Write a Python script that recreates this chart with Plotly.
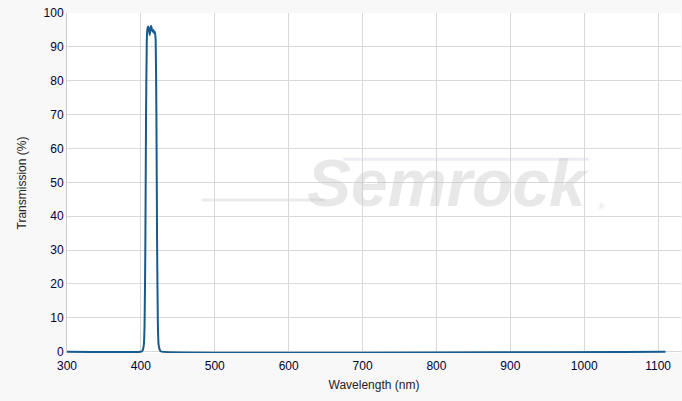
import plotly.graph_objects as go

wavelength = [300, 400, 402, 404, 405, 406, 407, 408, 409, 410, 411, 412, 413, 414,
              415, 416, 417, 418, 419, 420, 421, 422, 423, 424, 426, 428, 1110]
transmission = [0, 0, 0.2, 2, 8, 30, 70, 92, 95.5, 96, 95, 93.5, 95.5, 96.2,
                95, 94.5, 95, 94, 94.5, 92, 70, 30, 8, 2, 0.3, 0, 0]

x_ticks = [300, 400, 500, 600, 700, 800, 900, 1000, 1100]
y_ticks = [0, 10, 20, 30, 40, 50, 60, 70, 80, 90, 100]

font_family = "Liberation Sans, Arial, sans-serif"

fig = go.Figure()
fig.add_trace(go.Scatter(
    x=wavelength, y=transmission, mode="lines",
    line=dict(color="#175a8c", width=2, shape="spline", smoothing=0.4),
    hoverinfo="skip", showlegend=False,
))

# watermark
fig.add_annotation(
    x=0.62, y=0.5, xref="paper", yref="paper",
    text="<b><i>Semrock</i></b>", showarrow=False,
    font=dict(family=font_family, size=66, color="rgba(195,195,195,0.38)"),
)
fig.add_annotation(
    x=0.88, y=0.43, xref="paper", yref="paper",
    text="®", showarrow=False,
    font=dict(family=font_family, size=9, color="rgba(200,200,200,0.5)"),
)
fig.add_shape(type="line", xref="paper", yref="paper", x0=0.22, x1=0.42, y0=0.45, y1=0.45,
              line=dict(color="rgba(215,215,215,0.5)", width=3))
fig.add_shape(type="line", xref="paper", yref="paper", x0=0.45, x1=0.85, y0=0.57, y1=0.57,
              line=dict(color="rgba(220,210,230,0.45)", width=3))

fig.update_layout(
    width=682, height=401,
    margin=dict(l=67, r=1, t=13, b=48),
    paper_bgcolor="#f8f8f8",
    plot_bgcolor="#ffffff",
    font=dict(family=font_family, size=12, color="#000000"),
    xaxis=dict(
        range=[300, 1131], tickvals=x_ticks, ticktext=[str(v) for v in x_ticks],
        showgrid=True, gridcolor="#d9d9d9", gridwidth=1, zeroline=False,
        showline=False, ticks="", ticklabelstandoff=4,
        title=dict(text="Wavelength (nm)", standoff=8,
                   font=dict(size=12, color="#222222")),
        tickfont=dict(size=12, color="#000033"),
    ),
    yaxis=dict(
        range=[-0.4, 100], tickvals=y_ticks, ticktext=[str(v) for v in y_ticks],
        showgrid=True, gridcolor="#d9d9d9", gridwidth=1, zeroline=False,
        showline=True, linecolor="#cccccc", linewidth=1, ticks="",
        title=dict(text="Transmission (%)", standoff=14, font=dict(size=12, color="#222222")),
        tickfont=dict(size=12, color="#000033"),
    ),
)

fig.write_html("out.html", config={"displayModeBar": False},
               post_script="document.body.style.margin='0';")
